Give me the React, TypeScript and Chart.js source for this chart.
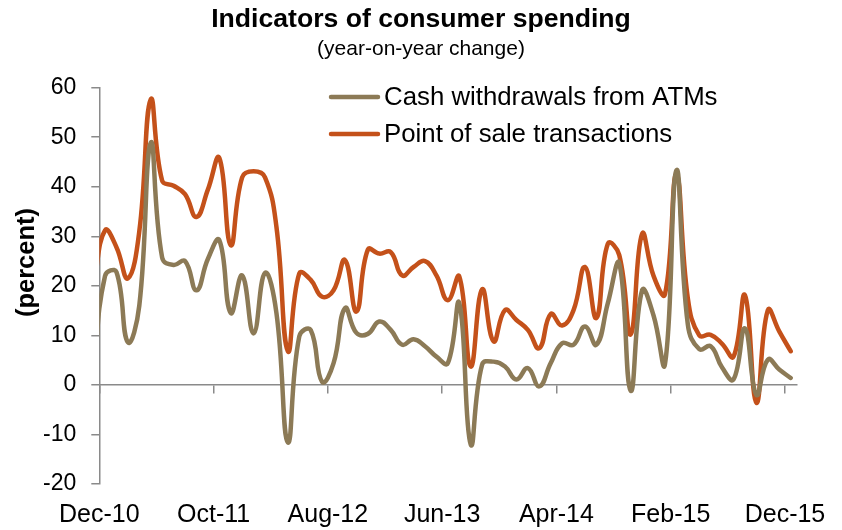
import React, { useEffect, useRef } from "react";
import { Chart, registerables } from "chart.js";

Chart.register(...registerables);

// ---- Data (monthly, year-on-year % change) ----
// First entry (Nov-10) lies just left of the axis and is clipped, as in the source.
const seriesNames = ["Cash withdrawals from ATMs", "Point of sale transactions"];

const atmValues = [
  2,
  22, 22.8, 8.6, 16, 48.9, 25.7, 24.2, 25, 19.1, 25.4,
  29.2, 14.5, 22.1, 10.4, 22.6, 14.5, -11.6, 9.8, 11.1, 0.6,
  4.4, 15.5, 10.5, 10.3, 12.8, 11.1, 8.1, 9.2, 7.8, 5.7,
  4.4, 16.5, -12, 4.1, 4.7, 3.7, 1.1, 3.4, -0.3, 4.4,
  8.4, 8.1, 11.8, 8.1, 16.5, 24.5, -1.2, 19.1, 14, 4.2,
  43.3, 12.2, 7.2, 7.8, 3.5, 1.1, 11.4, -2, 5.1, 3.1,
  1.4,
];

const posValues = [
  20,
  31.2, 27.8, 21.5, 31, 57.6, 41.2, 40.2, 38.5, 33.9, 39.4,
  45.8, 28.2, 41.9, 43.1, 41.9, 31.9, 6.8, 22.5, 21.2, 17.8,
  19.1, 25.2, 14.8, 27.3, 26.5, 26.8, 22.1, 23.8, 25, 22.1,
  17.1, 21.9, 3.7, 19.3, 8.8, 15.1, 13.1, 11.1, 7.4, 14.3,
  12, 15.1, 23.8, 13.5, 28.5, 26.2, 10.2, 30.5, 22, 18.3,
  42.5, 17.5, 10, 10.1, 8.3, 5.7, 18.1, -3.6, 15.1, 10.8,
  6.8,
];

// Tick labels every 10 months, starting Dec-10
const xTickLabels = ["Dec-10", "Oct-11", "Aug-12", "Jun-13", "Apr-14", "Feb-15", "Dec-15"];
const monthsPerTick = 10;
const monthCount = 61;

const yMin = -20;
const yMax = 60;
const yStep = 10;

const titleText = "Indicators of consumer spending";
const subtitleText = "(year-on-year change)";
const yTitleText = "(percent)";

// ---- Styles ----
const FONT = "'Liberation Sans', Arial, Helvetica, sans-serif";
const BROWN = "#8c7a56";
const ORANGE = "#c4511a";
const AXIS_GRAY = "#8a8a8a";
const seriesColors = [BROWN, ORANGE];

const toPoints = (vals: number[]) => vals.map((v, i) => ({ x: i - 0.5, y: v }));

const setTicks = (scale: any) => {
  scale.ticks = xTickLabels.map((_, k) => ({ value: k * monthsPerTick }));
};

const overlayPlugin = {
  id: "overlayText",
  afterDraw(chart: any) {
    const ctx = chart.ctx as CanvasRenderingContext2D;
    // Legend
    const lx = 329;
    const ly = 97;
    const row = 37;
    const sample = 51;
    ctx.save();
    chart.data.datasets.forEach((ds: any, i: number) => {
      const y = ly + i * row;
      ctx.strokeStyle = ds.borderColor;
      ctx.lineWidth = 4.5;
      ctx.lineCap = "round";
      ctx.beginPath();
      ctx.moveTo(lx + 2, y);
      ctx.lineTo(lx + sample - 2, y);
      ctx.stroke();
      ctx.fillStyle = "#000";
      ctx.font = `25.8px ${FONT}`;
      ctx.textAlign = "left";
      ctx.textBaseline = "middle";
      ctx.fillText(ds.label, lx + sample + 4, y + 1);
    });
    // Y axis title
    ctx.translate(27, 262.5);
    ctx.rotate(-Math.PI / 2);
    ctx.fillStyle = "#000";
    ctx.font = `bold 25.5px ${FONT}`;
    ctx.textAlign = "center";
    ctx.textBaseline = "middle";
    ctx.fillText(yTitleText, 0, 0);
    ctx.restore();
  },
};

export default function App() {
  const ref = useRef<HTMLCanvasElement | null>(null);

  useEffect(() => {
    document.body.style.margin = "0";
    const canvas = ref.current;
    if (!canvas) return;
    const chart = new Chart(canvas, {
      type: "line",
      data: {
        datasets: [
          {
            label: seriesNames[0],
            data: toPoints(atmValues),
            borderColor: seriesColors[0],
            backgroundColor: seriesColors[0],
            borderWidth: 4.5,
            pointRadius: 0,
            tension: 0.45,
            clip: 0,
            fill: false,
            borderCapStyle: "round",
            borderJoinStyle: "round",
          },
          {
            label: seriesNames[1],
            data: toPoints(posValues),
            borderColor: seriesColors[1],
            backgroundColor: seriesColors[1],
            borderWidth: 4.5,
            pointRadius: 0,
            tension: 0.45,
            clip: 0,
            fill: false,
            borderCapStyle: "round",
            borderJoinStyle: "round",
          },
        ],
      } as any,
      options: {
        responsive: false,
        animation: false,
        events: [],
        layout: { padding: 0 },
        plugins: {
          legend: { display: false },
          tooltip: { enabled: false },
          title: {
            display: true,
            text: titleText,
            color: "#000",
            font: { family: FONT, size: 26.6, weight: "bold" },
            padding: { top: 4, bottom: 0 },
          },
          subtitle: {
            display: true,
            text: subtitleText,
            color: "#000",
            font: { family: FONT, size: 21 },
            padding: { top: 0.5, bottom: 26 },
          },
        },
        scales: {
          x: {
            type: "linear",
            position: "bottom",
            min: 0,
            max: monthCount,
            grid: { display: false, drawTicks: false },
            border: { display: false },
            ticks: {
              color: "#000",
              font: { family: FONT, size: 25 },
              padding: 16,
              maxRotation: 0,
              autoSkip: false,
              callback: (v: any) => xTickLabels[Math.round(Number(v) / monthsPerTick)] ?? "",
            },
            afterBuildTicks: setTicks,
            afterFit: (s: any) => {
              s.height = 46;
            },
          },
          x0: {
            type: "linear",
            position: { y: 0 },
            min: 0,
            max: monthCount,
            grid: {
              display: true,
              drawOnChartArea: false,
              drawTicks: true,
              tickLength: 8,
              color: AXIS_GRAY,
              lineWidth: 1.5,
            },
            border: { display: true, color: AXIS_GRAY, width: 1.5 },
            ticks: { display: false },
            afterBuildTicks: setTicks,
          },
          y: {
            type: "linear",
            position: "left",
            min: yMin,
            max: yMax,
            ticks: {
              stepSize: yStep,
              color: "#000",
              font: { family: FONT, size: 23 },
              padding: 15,
            },
            grid: {
              drawOnChartArea: false,
              drawTicks: true,
              tickLength: 8,
              color: AXIS_GRAY,
              lineWidth: 1.5,
            },
            border: { display: true, color: AXIS_GRAY, width: 1.5 },
            afterFit: (s: any) => {
              s.width = 99.3;
            },
          },
          // empty right-hand spacer so the plot ends where the source's does,
          // while the title stays centred on the full canvas
          ySpacer: {
            type: "linear",
            position: "right",
            min: 0,
            max: 1,
            grid: { display: false, drawTicks: false },
            border: { display: false },
            ticks: { display: false },
            afterFit: (s: any) => {
              s.width = 45;
            },
          },
        } as any,
      },
      plugins: [overlayPlugin],
    });
    return () => chart.destroy();
  }, []);

  return (
    <div style={{ width: 842, height: 530 }}>
      <canvas ref={ref} width={842} height={530} style={{ display: "block", width: 842, height: 530 }} />
    </div>
  );
}
